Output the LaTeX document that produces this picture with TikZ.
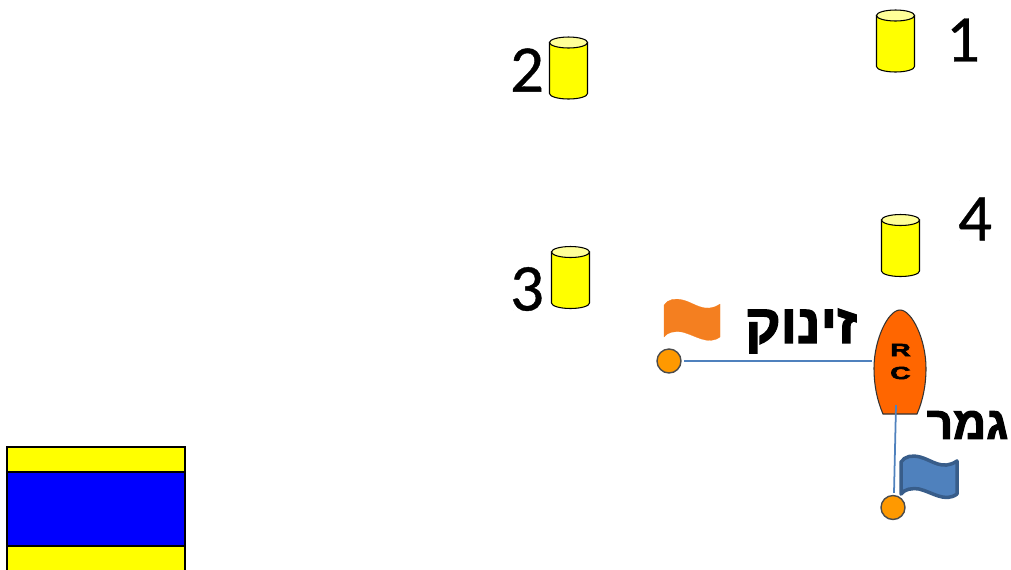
\documentclass[tikz,border=0pt]{standalone}
\usepackage{fontspec}
\usepackage{tikz}
\usetikzlibrary{calc}
\setmainfont[FakeBold=0.6]{Carlito}
\newfontfamily\hebfont[Script=Hebrew,FakeBold=2.5]{Liberation Sans Bold}
\newfontfamily\rcfont[FakeBold=3]{Liberation Sans Bold}
\TeXXeTstate=1
\definecolor{markyellow}{RGB}{255,255,0}
\definecolor{marktop}{RGB}{255,255,153}
\definecolor{gateblue}{RGB}{0,0,255}
\definecolor{buoyorange}{HTML}{FF9900}
\definecolor{lineblue}{HTML}{4F81BD}
\definecolor{finishedge}{HTML}{385D8A}
\definecolor{startflag}{HTML}{F47F20}
\definecolor{boatorange}{HTML}{FF6600}
\tikzset{
  mark num/.style={font=\fontsize{38}{38}\selectfont,inner sep=0pt},
  buoy/.style={draw=black!70,fill=buoyorange,shape=circle,minimum size=0.48cm,inner sep=0pt,line width=0.8pt},
  heb label/.style={font=\hebfont\fontsize{#1}{#1}\selectfont,inner sep=0pt},
  rc label/.style={font=\rcfont\fontsize{10}{10}\selectfont,inner sep=0pt,xscale=1.6},
  boat line/.style={draw=lineblue,line width=1pt}
}
\begin{document}
\begin{tikzpicture}[x=0.02cm,y=-0.02cm]
      \useasboundingbox (0,0) rectangle (1011,569);
      % gate
      \draw[fill=markyellow,line width=0.9pt] (7,447) rectangle (185,472);
      \draw[fill=gateblue,line width=0.9pt] (7,472) rectangle (185,546);
      \draw[fill=markyellow,line width=0.9pt] (7,546) rectangle (185,572);
      % marks
      \foreach \n/\x/\y/\a/\b in {1/895.5/41/963/40, 2/568.5/68/527/70, 3/570.5/277.5/527/289, 4/900.5/245.5/975/219}
      {
          \coordinate (mark\n) at (\x,\y);
          \draw[fill=markyellow,line width=0.6pt] (\x-19,\y-25.5) -- (\x-19,\y+25.5) arc (180:0:19 and 5.5) -- (\x+19,\y-25.5) -- cycle;
          \draw[fill=marktop,line width=0.6pt] (\x,\y-25.5) ellipse (19 and 5.5);
          \node[mark num] (num\n) at (\a,\b) {\n};
      }
      % boat
      \draw[draw=black!80,fill=boatorange,line width=0.6pt] (883,414) .. controls (877,400) and (874,385) .. (874,368)
          .. controls (874,340) and (888,310) .. (900,310)
          .. controls (912,310) and (926,340) .. (926,368)
          .. controls (926,385) and (923,400) .. (917,414) -- cycle;
      \node[rc label] (rcR) at (900.5,350) {R};
      \node[rc label] (rcC) at (900.5,373) {C};
      \coordinate (boatside) at (872,361);
      \coordinate (boatstern) at (896,405);
      % flags
      \foreach \dx/\dy/\c/\e/\w in {0/0/startflag/startflag/0.1pt, 237/157/lineblue/finishedge/2pt}
          \draw[shift={(\dx,\dy)},fill=\c,draw=\e,line width=\w,line join=round] (664,305)
              .. controls (668,299) and (675,298) .. (683,300)
              .. controls (695,303) and (705,314) .. (720,304)
              -- (720,337)
              .. controls (708,346) and (695,335) .. (682,332)
              .. controls (674,331) and (668,332) .. (664,337) -- cycle;
      % buoys and lines
      \node[buoy] (startbuoy) at (669,361) {};
      \node[buoy] (finishbuoy) at (893,507.5) {};
      \draw[boat line] (startbuoy) ++(15,0) coordinate (startend) -- (boatside);
      \draw[boat line] (boatstern) -- ($(finishbuoy.north)+(1,-2)$);
      % labels
      \node[heb label=31] (startlabel) at (801,331) {\beginR זינוק\endR};
      \node[heb label=26] (finishlabel) at (967.5,425) {\beginR גמר\endR};
\end{tikzpicture}
\end{document}
